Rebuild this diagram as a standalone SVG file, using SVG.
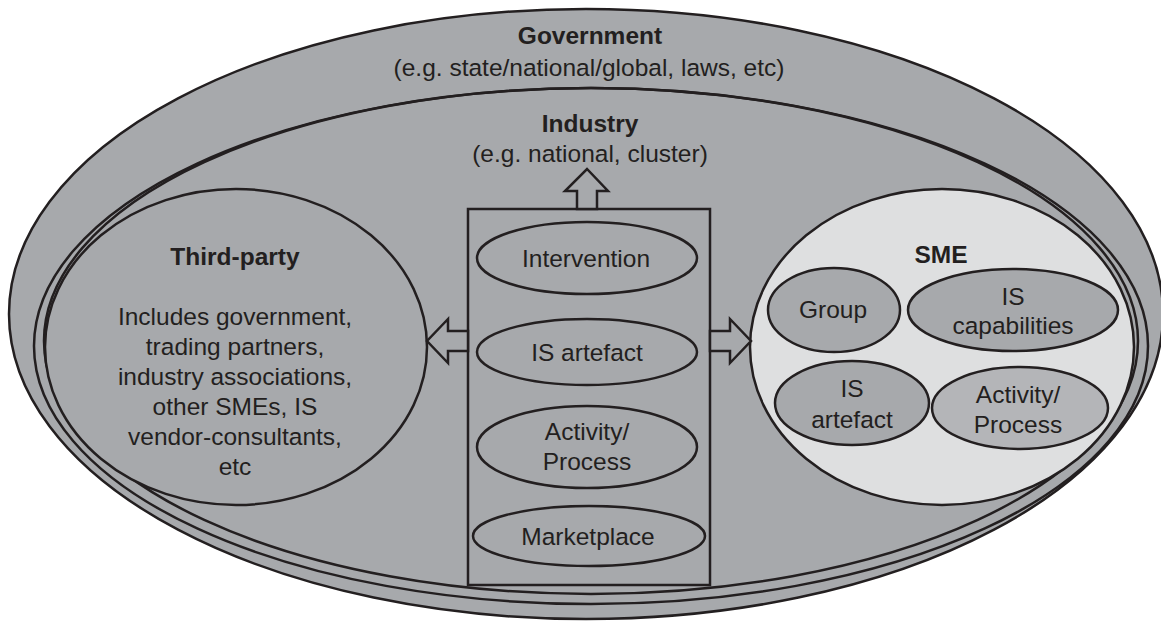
<svg xmlns="http://www.w3.org/2000/svg" width="1161" height="622" viewBox="0 0 1161 622">
<style>
  .shape { fill: #a7a9ac; stroke: #231f20; stroke-width: 2.5; }
  .light { fill: #dedfe0; stroke: #231f20; stroke-width: 2.5; }
  .line { fill: none; stroke: #231f20; stroke-width: 2.5; }
  text { font-family: "Liberation Sans", Arial, sans-serif; font-size: 24.5px; fill: #231f20; text-anchor: middle; }
  .b { font-weight: bold; }
</style>
<rect width="1161" height="622" fill="#ffffff"/>
<g id="government">
  <ellipse class="shape" cx="586" cy="314" rx="577" ry="305"/>
  <text class="b" x="590" y="44">Government</text>
  <text x="589" y="76">(e.g. state/national/global, laws, etc)</text>
</g>
<g id="industry">
  <ellipse class="shape" cx="591" cy="346" rx="557" ry="258"/>
  <ellipse class="line" cx="591" cy="341" rx="547" ry="253"/>
  <text class="b" x="590" y="132">Industry</text>
  <text x="590" y="162">(e.g. national, cluster)</text>
</g>
<g id="third-party">
  <ellipse class="shape" cx="236" cy="347" rx="191" ry="158"/>
  <text class="b" x="235" y="265">Third-party</text>
  <text x="235" y="325">Includes government,</text>
  <text x="235" y="355">trading partners,</text>
  <text x="235" y="385">industry associations,</text>
  <text x="235" y="415">other SMEs, IS</text>
  <text x="235" y="445">vendor-consultants,</text>
  <text x="235" y="475">etc</text>
</g>
<g id="center-box">
  <rect class="shape" x="468" y="209" width="242" height="376"/>
</g>
<g id="intervention">
  <ellipse class="shape" cx="587" cy="258" rx="110" ry="36"/>
  <text x="586" y="267">Intervention</text>
</g>
<g id="is-artefact">
  <ellipse class="shape" cx="587" cy="352" rx="110" ry="33"/>
  <text x="587" y="361">IS artefact</text>
</g>
<g id="activity-process">
  <ellipse class="shape" cx="587" cy="447" rx="110" ry="41"/>
  <text x="587" y="440">Activity/</text>
  <text x="587" y="470">Process</text>
</g>
<g id="marketplace">
  <ellipse class="shape" cx="589" cy="536" rx="116" ry="30"/>
  <text x="588" y="545">Marketplace</text>
</g>
<g id="sme">
  <ellipse class="light" cx="942" cy="347" rx="192" ry="158"/>
  <text class="b" x="941" y="263">SME</text>
</g>
<g id="sme-group">
  <ellipse class="shape" cx="834" cy="310" rx="66" ry="42"/>
  <text x="833" y="318">Group</text>
</g>
<g id="sme-is-capabilities">
  <ellipse class="shape" cx="1013" cy="310" rx="105" ry="41"/>
  <text x="1013" y="305">IS</text>
  <text x="1013" y="334">capabilities</text>
</g>
<g id="sme-is-artefact">
  <ellipse class="shape" cx="852" cy="403" rx="77" ry="42"/>
  <text x="852" y="397">IS</text>
  <text x="852" y="428">artefact</text>
</g>
<g id="sme-activity-process">
  <ellipse class="shape" cx="1020" cy="408" rx="88" ry="41" style="fill:#b4b5b8"/>
  <text x="1018" y="403">Activity/</text>
  <text x="1018" y="433">Process</text>
</g>
<g id="connectors">
  <polygon class="shape" points="577,209 577,191 565,191 587,169 608,191 597,191 597,209"/>
  <polygon class="shape" points="468,331 448,331 448,319 427,341 448,363 448,351 468,351"/>
  <polygon class="shape" points="710,331 730,331 730,319 751,341 730,363 730,351 710,351"/>
</g>
</svg>
